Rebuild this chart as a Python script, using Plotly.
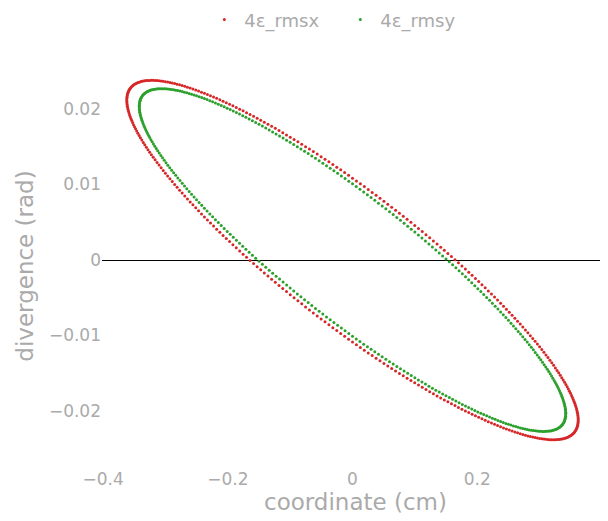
import numpy as np
import plotly.graph_objects as go

# Values: ellipse extents of each phase-space boundary
series_names = ["4ε_rmsx", "4ε_rmsy"]
series_colors = ["#d62728", "#2ca02c"]
x_max = [0.362, 0.342]        # max coordinate (cm)
xp_max = [0.0238, 0.0227]     # max divergence (rad)
x_cross = [0.165, 0.152]      # coordinate where divergence = 0
n_points = 360

x_ticks = [-0.4, -0.2, 0, 0.2]
y_ticks = [-0.02, -0.01, 0, 0.01, 0.02]

fig = go.Figure()
t = np.linspace(0, 2 * np.pi, n_points, endpoint=False)
for name, col, A, B, x0 in zip(series_names, series_colors, x_max, xp_max, x_cross):
    phi = np.arcsin(x0 / A)
    x = A * np.cos(t)
    xp = -B * np.cos(t - phi)
    fig.add_trace(go.Scatter(x=x, y=xp, mode="markers", name=name,
                             marker=dict(color=col, size=3)))

grey = "#aaaaaa"
fnt = "DejaVu Sans, Verdana, sans-serif"
fig.update_layout(
    width=608, height=521,
    paper_bgcolor="white", plot_bgcolor="white",
    font=dict(family=fnt, color=grey, size=17),
    margin=dict(l=94, r=7, t=62, b=67, autoexpand=False),
    legend=dict(orientation="h", x=0.470, xanchor="center", y=1.128, yanchor="middle",
                entrywidth=91,
                font=dict(size=18, color=grey, family=fnt)),
    xaxis=dict(range=[-0.4018, 0.4114], showgrid=False, zeroline=False,
               tickvals=x_ticks, ticktext=["−0.4", "−0.2", "0", "0.2"],
               ticklabelstandoff=5,
               title=dict(text="coordinate (cm)", font=dict(size=23, color=grey),
                          standoff=0),
               tickfont=dict(size=17, color=grey), showline=False),
    yaxis=dict(range=[-0.02675, 0.02517], showgrid=False, zeroline=True,
               zerolinecolor="black", zerolinewidth=1,
               tickvals=y_ticks, ticktext=["−0.02", "−0.01", "0", "0.01", "0.02"],
               title=dict(text="divergence (rad)", font=dict(size=23, color=grey),
                          standoff=8),
               tickfont=dict(size=17, color=grey), showline=False),
)
fig.write_html("out.html")
